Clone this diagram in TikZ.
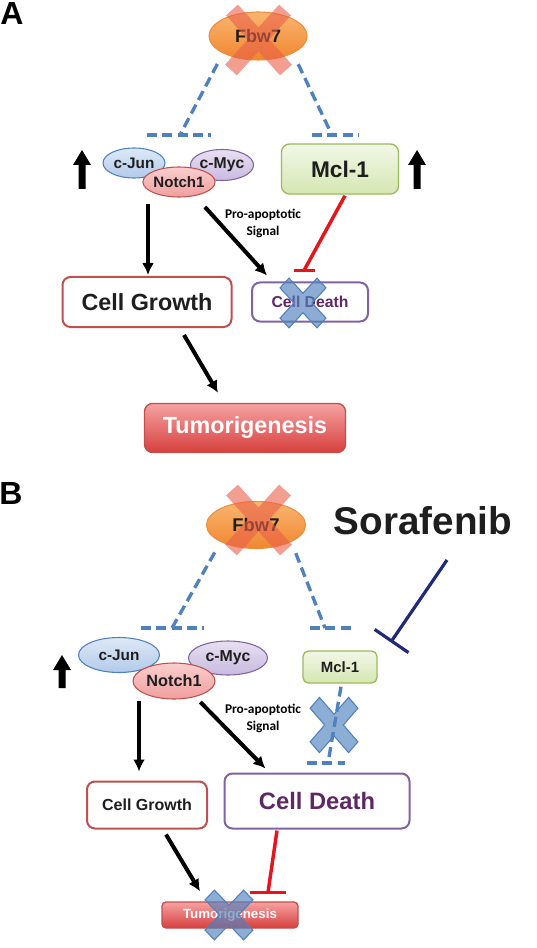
\documentclass[tikz,border=0pt]{standalone}
\usepackage{fontspec}
\setmainfont{Liberation Sans}
\newfontfamily\calib{Carlito}
\usepackage{tikz}
\usetikzlibrary{shapes.geometric, arrows.meta, calc}
\definecolor{Dblue}{RGB}{79,129,189}
\definecolor{Fedge}{RGB}{240,140,60}
\definecolor{Ftop}{RGB}{250,182,112}
\definecolor{Fbot}{RGB}{240,134,48}
\definecolor{Xred}{RGB}{233,95,72}
\definecolor{Jtop}{RGB}{222,233,246}
\definecolor{Jbot}{RGB}{178,202,234}
\definecolor{Mpurp}{RGB}{128,100,162}
\definecolor{Ytop}{RGB}{232,224,241}
\definecolor{Ybot}{RGB}{200,186,223}
\definecolor{Npink}{RGB}{192,80,77}
\definecolor{Ntop}{RGB}{250,206,206}
\definecolor{Nbot}{RGB}{240,158,158}
\definecolor{Mgreen}{RGB}{155,187,89}
\definecolor{Gtop}{RGB}{242,247,231}
\definecolor{Gbot}{RGB}{213,230,178}
\definecolor{Gred}{RGB}{192,80,77}
\definecolor{Dtext}{RGB}{95,40,100}
\definecolor{Ttop}{RGB}{246,162,162}
\definecolor{Tbot}{RGB}{214,64,62}
\definecolor{Ired}{RGB}{232,20,27}
\definecolor{Navy}{RGB}{31,42,120}
\definecolor{Tdark}{RGB}{30,30,30}
% blue "blocked" cross, centre / xscale / yscale
\newcommand{\Nocross}[3]{%
    \path[nocross, shift={(#1)}, xscale=#2, yscale=#3]
      (0,-9) -- (14,-23) -- (23,-14) -- (9,0) -- (23,14) -- (14,23) -- (0,9)
      -- (-14,23) -- (-23,14) -- (-9,0) -- (-23,-14) -- (-14,-23) -- cycle;
  }
% red cross over Fbw7
\newcommand{\Fbwcross}[1]{%
    \draw[fbwx, shift={(#1)}] (-26,-30) -- (28,30) (27,-30) -- (-27,30);
  }
% black up arrow, x / top / bottom
\newcommand{\Uparr}[3]{%
    \fill[black] (#1,#2) -- (#1+9,#2+15) -- (#1+3.5,#2+15) -- (#1+3.5,#3)
      -- (#1-3.5,#3) -- (#1-3.5,#2+15) -- (#1-9,#2+15) -- cycle;
  }

\begin{document}
\begin{tikzpicture}[x=0.75pt, y=-0.75pt,
  every node/.style={font=\bfseries},
  prot/.style={ellipse, draw, line width=0.8pt, inner sep=0pt, text=Tdark},
  box/.style={rectangle, rounded corners=6pt, line width=1.5pt, inner sep=0pt},
  act/.style={line width=3pt, -{Latex[length=9pt,width=9pt]}},
  inh/.style={line width=2.6pt, draw=Ired},
  fbwline/.style={line width=2.5pt, draw=Dblue, dash pattern=on 7.5pt off 4pt},
  nocross/.style={fill=Dblue, fill opacity=0.65, draw=Dblue, line width=0.8pt},
  fbwx/.style={draw=Xred, line width=12pt, draw opacity=0.6},
  sorainh/.style={line width=2.4pt, draw=Navy, -{Bar[width=30.75pt]}}]
  \useasboundingbox (0,0) rectangle (536,948);

  % ------------------------------------------------
  % Panel A
  % ------------------------------------------------
  \node[font=\fontsize{24}{28}\selectfont\bfseries] (labA) at (12,13) {A};

  \node[prot, draw=Fedge, top color=Ftop, bottom color=Fbot, minimum width=73.5pt,
    minimum height=36pt, font=\fontsize{13.5}{16}\selectfont\bfseries] (fbwA) at (258,36) {Fbw7};
  \Fbwcross{258,40}

  \coordinate (tA1) at (180,135);
  \coordinate (tA2) at (332,135);
  \draw[fbwline, shorten <=9pt] (fbwA.south west) -- (tA1);
  \draw[fbwline] (tA1) ++(-33,0) -- ++(64,0);
  \draw[fbwline, shorten <=9pt] (fbwA.south east) -- (tA2);
  \draw[fbwline] (tA2) ++(-20,0) -- ++(47,0);

  \node[prot, draw=Dblue, top color=Jtop, bottom color=Jbot, minimum width=46.5pt,
    minimum height=22.5pt, font=\fontsize{11.5}{14}\selectfont\bfseries] (cjunA) at (134,163) {c-Jun};
  \node[prot, draw=Mpurp, top color=Ytop, bottom color=Ybot, minimum width=47.25pt,
    minimum height=23.25pt, font=\fontsize{11.8}{14}\selectfont\bfseries] (cmycA) at (222,165) {c-Myc};
  \node[prot, draw=Npink, top color=Ntop, bottom color=Nbot, minimum width=50.25pt,
    minimum height=22.5pt, font=\fontsize{11.3}{14}\selectfont\bfseries] (notchA) at (179,182) {Notch1};

  \node[box, draw=Mgreen, line width=1pt, top color=Gtop, bottom color=Gbot, minimum width=87.75pt,
    minimum height=37.5pt, font=\fontsize{17}{20}\selectfont\bfseries, text=Tdark] (mclA) at (340,169) {Mcl-1};

  \Uparr{82}{150}{189}
  \Uparr{417}{150}{189}

  \node[box, draw=Gred, fill=white, minimum width=126.75pt, minimum height=37.5pt,
    font=\fontsize{17.5}{21}\selectfont\bfseries, text=Tdark] (cgA) at (147,302) {Cell Growth};
  \node[box, draw=Mpurp, fill=white, text=Dtext, minimum width=87pt, minimum height=29.25pt,
    font=\fontsize{11.8}{14}\selectfont\bfseries] (cdA) at (310,302) {Cell Death};
  \node[box, draw=Gred, line width=1pt, top color=Ttop, bottom color=Tbot, text=white,
    minimum width=150.75pt, minimum height=36.75pt,
    font=\fontsize{17.5}{21}\selectfont\bfseries] (tumA) at (245,428) {Tumorigenesis};

  \node[align=center, font=\calib\fontsize{10}{12.75}\selectfont\bfseries] (proA) at (263,223)
    {Pro-apoptotic\\Signal};

  \draw[act] ($(cgA.north |- notchA.south)+(1,6)$) -- ($(cgA.north)+(1,-1)$);
  \draw[act] ($(notchA.south east)+(0,14)$) -- ($(cdA.north west)+(16,-6)$);
  \draw[act] ($(cgA.south)+(37,7)$) -- ($(tumA.north)+(-27,-10)$);

  \coordinate (inhA) at ($(cdA.north)+(-6,-11)$);
  \draw[inh] ($(mclA.south)+(5,1)$) -- (inhA);
  \draw[inh] (inhA) ++(-10,0) -- ++(21,0);

  \Nocross{303,303}{1}{1.08}

  % ------------------------------------------------
  % Panel B
  % ------------------------------------------------
  \node[font=\fontsize{24}{28}\selectfont\bfseries] (labB) at (11,493) {B};

  \node[prot, draw=Fedge, top color=Ftop, bottom color=Fbot, minimum width=74.25pt,
    minimum height=35.25pt, font=\fontsize{13.8}{16}\selectfont\bfseries] (fbwB) at (256,525) {Fbw7};
  \Fbwcross{258,520}

  \coordinate (tB1) at (172,628);
  \coordinate (tB2) at (325,628);
  \draw[fbwline, shorten <=9pt] (fbwB.south west) -- (tB1);
  \draw[fbwline] (tB1) ++(-31,0) -- ++(63,0);
  \draw[fbwline, shorten <=9pt] (fbwB.south east) -- (tB2);
  \draw[fbwline] (tB2) ++(-15,0) -- ++(43,0);

  \node[font=\fontsize{29}{34}\selectfont\bfseries, text=Tdark] (soraB) at (423,521) {Sorafenib};

  \node[prot, draw=Dblue, top color=Jtop, bottom color=Jbot, minimum width=60.75pt,
    minimum height=26.25pt, font=\fontsize{11.5}{14}\selectfont\bfseries] (cjunB) at (119,655) {c-Jun};
  \node[prot, draw=Mpurp, top color=Ytop, bottom color=Ybot, minimum width=59.25pt,
    minimum height=25.5pt, font=\fontsize{11.9}{14}\selectfont\bfseries] (cmycB) at (228,658) {c-Myc};
  \node[prot, draw=Npink, top color=Ntop, bottom color=Nbot, minimum width=61.5pt,
    minimum height=27pt, font=\fontsize{12.2}{14}\selectfont\bfseries] (notchB) at (174,681) {Notch1};

  \node[box, draw=Mgreen, line width=1pt, rounded corners=4pt, top color=Gtop, bottom color=Gbot,
    minimum width=55.5pt, minimum height=24pt, font=\fontsize{11.2}{14}\selectfont\bfseries,
    text=Tdark] (mclB) at (340,667) {Mcl-1};

  \draw[sorainh] ($(soraB.center)+(24,39)$) -- ($(mclB.north east)+(13,-8)$);

  \Uparr{62}{655}{688}

  \coordinate (tB3) at (328,763);
  \draw[fbwline] ($(mclB.south)+(1,3)$) -- (tB3);
  \draw[fbwline] (tB3) ++(-21,0) -- ++(38,0);
  \Nocross{334,725}{1.04}{1.2}

  \node[align=center, font=\calib\fontsize{10}{12.75}\selectfont\bfseries] (proB) at (263,718)
    {Pro-apoptotic\\Signal};

  \node[box, draw=Gred, fill=white, minimum width=90pt, minimum height=35.25pt,
    font=\fontsize{12}{14}\selectfont\bfseries, text=Tdark] (cgB) at (147,805) {Cell Growth};
  \node[box, draw=Mpurp, fill=white, text=Dtext, minimum width=138.75pt, minimum height=41.25pt,
    font=\fontsize{17.8}{21}\selectfont\bfseries] (cdB) at (317,801) {Cell Death};
  \node[box, draw=Gred, line width=1pt, rounded corners=3pt, top color=Ttop, bottom color=Tbot,
    text=white, minimum width=102pt, minimum height=19.5pt,
    font=\fontsize{10}{12}\selectfont\bfseries] (tumB) at (230,915) {Tumorigenesis};

  \draw[act] ($(cgB.north |- notchB.south)+(-8,1)$) -- ($(cgB.north)+(-8,-9)$);
  \draw[act] ($(notchB.south east)+(-3,8)$) -- ($(cdB.north west)+(42,-4)$);
  \draw[act] ($(cgB.south)+(19,5)$) -- ($(tumB.north)+(-30,-10)$);

  \coordinate (inhB) at ($(tumB.north)+(38,-9)$);
  \draw[inh] ($(cdB.south)+(-40,1)$) -- (inhB);
  \draw[inh] (inhB) ++(-18,0) -- ++(36,0);

  \Nocross{229,915}{1.04}{1.08}
\end{tikzpicture}
\end{document}
